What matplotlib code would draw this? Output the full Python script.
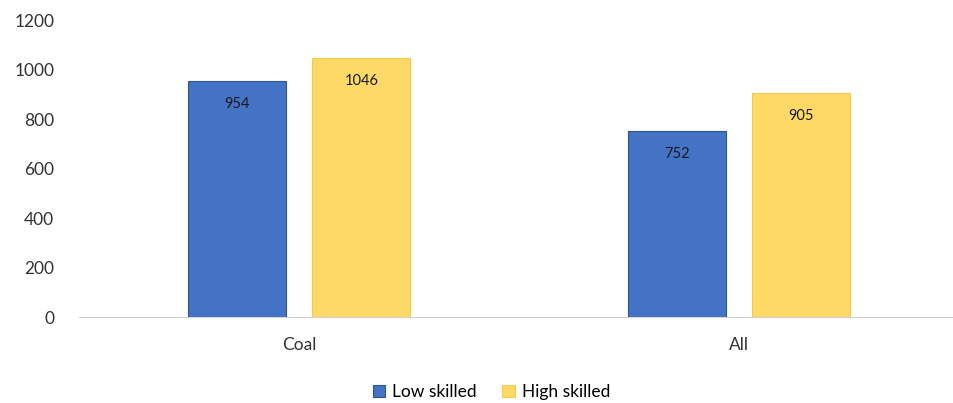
import matplotlib.pyplot as plt
import numpy as np

plt.rcParams['font.family'] = ['Lato', 'DejaVu Sans']

categories = ['Coal', 'All']
low_skilled = [954, 752]
high_skilled = [1046, 905]

x = np.arange(len(categories))
width = 0.223
gap = 0.03

fig = plt.figure(figsize=(9.54, 4.03), dpi=100)
ax = fig.add_axes([0.083, 0.213, 0.922, 0.737])

b1 = ax.bar(x - width / 2 - gap, low_skilled, width, color='#4472C4',
            edgecolor='#2F5597', linewidth=0.8, label='Low skilled')
b2 = ax.bar(x + width / 2 + gap, high_skilled, width, color='#FFD966',
            edgecolor='#F2C94C', linewidth=0.8, label='High skilled')

for bars in (b1, b2):
    for rect in bars:
        h = rect.get_height()
        ax.text(rect.get_x() + rect.get_width() / 2, h - 92, f'{h:.0f}',
                ha='center', va='center', fontsize=10.5, color='#1a1a1a')

ax.set_xlim(-0.5, 1.5)
ax.set_ylim(0, 1200)
ax.set_yticks(range(0, 1201, 200))
ax.set_xticks(x)
ax.set_xticklabels(categories)
ax.tick_params(axis='both', length=0, labelsize=12.5, colors='#333333')
ax.tick_params(axis='x', pad=14)
ax.tick_params(axis='y', pad=18)
for s in ['top', 'right', 'left']:
    ax.spines[s].set_visible(False)
ax.spines['bottom'].set_color('#d0d0d0')

fig.legend(handles=[b1, b2], loc='center', bbox_to_anchor=(0.515, 0.027),
           ncol=2, frameon=False, fontsize=12.5, handlelength=0.7,
           handleheight=0.7, columnspacing=1.5, handletextpad=0.4)

fig.savefig('out.png', dpi=100)
